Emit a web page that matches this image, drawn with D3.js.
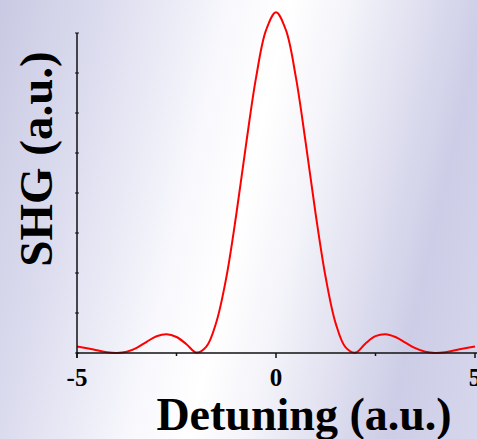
<!DOCTYPE html>
<html>
<head>
<meta charset="utf-8">
<script src="https://cdn.jsdelivr.net/npm/d3@7"></script>
<style>
html, body { margin: 0; padding: 0; overflow: hidden; }
svg { display: block; }
</style>
</head>
<body>
<div id="chart"></div>
<script>
var width = 477;
var height = 439;

// detuning (a.u.) and SHG signal (a.u.)
var detuning = [-5, -4.75, -4.5, -4.25, -4, -3.75, -3.5, -3.25, -3, -2.75, -2.5, -2.25, -2,
	-1.75, -1.5, -1.25, -1, -0.75, -0.5, -0.25, 0, 0.25, 0.5, 0.75, 1, 1.25, 1.5, 1.75,
	2, 2.25, 2.5, 2.75, 3, 3.25, 3.5, 3.75, 4, 4.25, 4.5, 4.75, 5];
var shg = [0.16, 0.12, 0.07, 0.02, 0.0, 0.03, 0.13, 0.28, 0.42, 0.47, 0.40, 0.22, 0.01,
	0.16, 0.77, 1.88, 3.45, 5.23, 6.89, 8.07, 8.52, 8.07, 6.89, 5.23, 3.45, 1.88, 0.74, 0.14,
	0.01, 0.24, 0.42, 0.47, 0.40, 0.26, 0.12, 0.03, 0.0, 0.02, 0.07, 0.12, 0.16];

var xTicks = [-5, -2.5, 0, 2.5, 5];
var xLabels = [-5, 0, 5];
var yTicks = [0, 1, 2, 3, 4, 5, 6, 7, 8];

var plotLeft = 77, plotRight = 475, plotTop = 33, plotBottom = 353;

var svg = d3.select('#chart')
	.append('svg')
	.attr('width', width)
	.attr('height', height);

// tilted lavender / white background
var defs = svg.append('defs');
var grad = defs.append('linearGradient')
	.attr('id', 'bg')
	.attr('gradientUnits', 'userSpaceOnUse')
	.attr('x1', 0).attr('y1', 0)
	.attr('x2', 551).attr('y2', 127);
var stops = [[0, '#c9c9e3'], [0.2, '#dedef0'], [0.4, '#f8f8fd'], [0.5, '#ffffff'], [0.6, '#f4f4fa'], [0.84, '#cdcde7'], [1, '#d6d6ec']];
stops.forEach(function(s) {
	grad.append('stop').attr('offset', s[0]).attr('stop-color', s[1]);
});
svg.append('rect')
	.attr('width', width)
	.attr('height', height)
	.attr('fill', 'url(#bg)');

var x = d3.scaleLinear().domain([-5, 5]).range([plotLeft, plotRight]);
var y = d3.scaleLinear().domain([0, 8]).range([plotBottom, plotTop]);

// curve
var data = d3.zip(detuning, shg);
var line = d3.line()
	.x(function(d) { return x(d[0]); })
	.y(function(d) { return y(d[1]); })
	.curve(d3.curveCatmullRom.alpha(0.5));

svg.append('path')
	.datum(data)
	.attr('d', line)
	.attr('fill', 'none')
	.attr('stroke', '#ff0000')
	.attr('stroke-width', 2);

// axes
var axes = svg.append('g').attr('stroke', '#111');

axes.append('line')
	.attr('x1', plotLeft).attr('x2', width)
	.attr('y1', plotBottom).attr('y2', plotBottom)
	.attr('stroke-width', 1.5);
axes.append('line')
	.attr('x1', plotLeft).attr('x2', plotLeft)
	.attr('y1', plotTop).attr('y2', plotBottom + 5)
	.attr('stroke-width', 1.5);

axes.selectAll('.xtick')
	.data(xTicks)
	.enter().append('line')
	.attr('class', 'xtick')
	.attr('x1', function(d) { return x(d); })
	.attr('x2', function(d) { return x(d); })
	.attr('y1', plotBottom)
	.attr('y2', function(d) { return d % 5 === 0 ? plotBottom + 5 : plotBottom + 3; })
	.attr('stroke-width', 1.5);

axes.selectAll('.ytick')
	.data(yTicks)
	.enter().append('line')
	.attr('class', 'ytick')
	.attr('x1', plotLeft - 2)
	.attr('x2', plotLeft + 2)
	.attr('y1', function(d) { return y(d); })
	.attr('y2', function(d) { return y(d); })
	.attr('stroke-width', 1);

var font = '"Liberation Serif", "Times New Roman", serif';

svg.selectAll('.xlabel')
	.data(xLabels)
	.enter().append('text')
	.attr('class', 'xlabel')
	.attr('x', function(d) { return x(d); })
	.attr('y', 386)
	.attr('text-anchor', 'middle')
	.style('font-family', font)
	.style('font-weight', 'bold')
	.style('font-size', '25px')
	.text(function(d) { return d; });

svg.append('text')
	.attr('x', 304)
	.attr('y', 430)
	.attr('text-anchor', 'middle')
	.style('font-family', font)
	.style('font-weight', 'bold')
	.style('font-size', '46px')
	.text('Detuning (a.u.)');

svg.append('text')
	.attr('transform', 'translate(52,159) rotate(-90)')
	.attr('text-anchor', 'middle')
	.style('font-family', font)
	.style('font-weight', 'bold')
	.style('font-size', '47px')
	.text('SHG (a.u.)');
</script>
</body>
</html>
